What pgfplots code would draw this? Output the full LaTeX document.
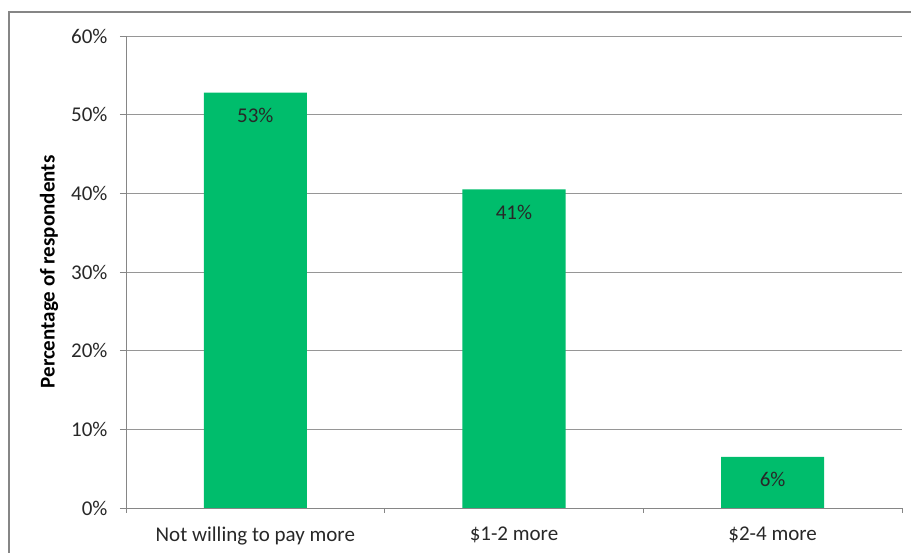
\documentclass[border=0pt]{standalone}
\usepackage{pgfplots}
\pgfplotsset{compat=1.18}
\usepackage{fontspec}
\setmainfont{Carlito}
\definecolor{bargreen}{RGB}{0,189,108}
\definecolor{axgray}{RGB}{134,134,134}
\definecolor{gridgray}{RGB}{150,150,150}
\definecolor{txt}{RGB}{40,40,40}
\begin{document}
\begin{tikzpicture}[x=1pt,y=1pt]
\useasboundingbox (-126,-45) rectangle (785,508);
\draw[axgray, line width=1.2pt] (-117,-50) -- (-117,496) -- (800,496);
\begin{axis}[
  at={(0,0)}, anchor=south west,
  scale only axis,
  width=776pt, height=472pt,
  xmin=-0.5, xmax=2.5,
  ymin=0, ymax=60,
  axis lines=left,
  axis line style={-, axgray, line width=0.9pt},
  xtick={0,1,2},
  xticklabels={Not willing to pay more, \$1-2 more, \$2-4 more},
  major x tick style={draw=none},
  minor xtick={-0.5,0.5,1.5,2.5},
  minor x tick style={axgray, line width=0.9pt},
  minor tick length=5pt,
  ytick={0,10,20,30,40,50,60},
  yticklabel={\pgfmathprintnumber{\tick}\%},
  /pgf/number format/assume math mode=true,
  y tick style={axgray, line width=0.9pt},
  major tick length=6pt,
  tick align=outside,
  ymajorgrids,
  grid style={gridgray, line width=0.9pt},
  ticklabel style={font=\fontsize{21}{25}\selectfont, text=txt},
  yticklabel style={xshift=-9pt},
  xticklabel style={yshift=-9pt},
  ylabel={\textbf{Percentage of respondents}},
  ylabel style={font=\fontsize{21}{25}\selectfont, text=black, at={(axis description cs:0,0.5)}, yshift=77pt, anchor=center},
  ybar, bar width=103pt,
  nodes near coords,
  point meta=explicit symbolic,
  every node near coord/.append style={anchor=center, yshift=-23pt, font=\fontsize{21}{25}\selectfont, text=txt},
  clip=false,
]
\addplot[fill=bargreen, draw=none] coordinates {
  (0,52.8) [53\%]
  (1,40.5) [41\%]
  (2,6.5) [6\%]
};
\end{axis}
\end{tikzpicture}
\end{document}
